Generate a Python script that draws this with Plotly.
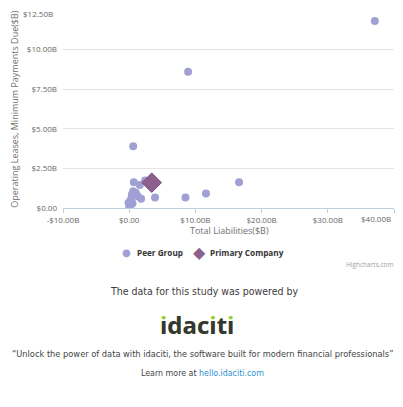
import plotly.graph_objects as go

# ---- data ----
peer_x = [37.1, 8.9, 0.6, 2.4, 0.7, 1.6, 3.9, 8.5, 11.6, 16.6, 0.6, 1.0, 1.3, 1.8,
          0.4, 0.25, 0.1, 0.0, -0.1, 0.15, 0.3, 0.5]
peer_y = [11.8, 8.6, 3.9, 1.73, 1.62, 1.45, 0.66, 0.66, 0.91, 1.63, 1.06, 0.96, 0.74, 0.58,
          0.85, 0.54, 0.22, 0.02, 0.33, 0.1, 0.4, 0.3]
primary_x = [3.4]
primary_y = [1.6]

x_tickvals = [-10, 0, 10, 20, 30, 40]
x_ticktext = ["-$10.00B", "$0.00", "$10.00B", "$20.00B", "$30.00B", "$40.00B"]
y_tickvals = [0, 2.5, 5, 7.5, 10, 12.5]
y_ticktext = ["$0.00", "$2.50B", "$5.00B", "$7.50B", "$10.00B", "$12.50B"]

x_title = "Total Liabilities($B)"
y_title = "Operating Leases, Minimum Payments Due($B)"
series_names = ["Peer Group", "Primary Company"]
series_colors = ["rgb(160,160,212)", "rgb(140,95,140)"]

CHART_FONT = "Open Sans, DejaVu Sans, sans-serif"
NARROW = "DejaVu Sans Condensed, DejaVu Sans, sans-serif"

fig = go.Figure()
fig.add_trace(go.Scatter(
    x=peer_x, y=peer_y, mode="markers", name=series_names[0], showlegend=False,
    marker=dict(symbol="circle", size=8, color=series_colors[0], line=dict(width=0)),
))
fig.add_trace(go.Scatter(
    x=primary_x, y=primary_y, mode="markers", name=series_names[1], showlegend=False,
    marker=dict(symbol="diamond", size=15, color=series_colors[1],
                line=dict(width=1, color="rgb(120,75,120)")),
))

# page body has an 8px margin; reference pixel coords map to paper coords like this
def px(p):
    return (p - 63) / 331

def py(p):
    return (208.5 - p) / 198.5

def ann(text, x, y, size, color, family=CHART_FONT, xanchor="center", **kw):
    return dict(text=text, x=px(x), y=py(y), xref="paper", yref="paper", showarrow=False,
                xanchor=xanchor, yanchor="middle",
                font=dict(family=family, size=size, color=color), **kw)

annotations = [
    # edge tick labels pulled inside the page (as Highcharts does)
    ann(x_ticktext[-1], 393, 219.5, 8, "#666666", xanchor="right"),
    ann(y_ticktext[-1], 55, 13.5, 8, "#666666", xanchor="right"),
    ann(x_title, 229, 231, 9, "#707070"),
    ann(y_title, 15, 109, 9, "#707070", textangle=-90),
    # legend
    ann("\u25cf", 126, 253, 10, series_colors[0], family="DejaVu Sans"),
    ann("<b>%s</b>" % series_names[0], 135, 253, 8.2, "#333333", xanchor="left"),
    ann("\u25c6", 199, 253, 16, series_colors[1], family="DejaVu Sans"),
    ann("<b>%s</b>" % series_names[1], 208, 253, 8.2, "#333333", xanchor="left"),
    ann("Highcharts.com", 395, 265, 6.5, "#a0a0a0", xanchor="right"),
    ann("The data for this study was powered by", 204, 292, 10.5, "#3d3d3d", family=NARROW),
    # logo: green full letters underneath, dark dotless letters on top
    ann("<b>idaciti</b>", 197, 325, 24, "#99cc33", family="Open Sans, sans-serif"),
    ann("<b>\u0131dac\u0131t\u0131</b>", 197, 325, 24, "#363636", family="Open Sans, sans-serif"),
    ann("\u201cUnlock the power of data with idaciti, the software built for modern financial professionals\u201d",
        202, 354, 9.2, "#444444", family=NARROW),
    ann("Learn more at <span style='color:#2a8fd0'>hello.idaciti.com</span>",
        202, 374, 8.8, "#444444", family=NARROW),
]

fig.update_layout(
    width=395, height=399,
    margin=dict(l=55, r=9, t=2, b=198.5, pad=0, autoexpand=False),
    paper_bgcolor="white", plot_bgcolor="white",
    showlegend=False,
    annotations=annotations,
    xaxis=dict(range=[-10, 40], tickvals=x_tickvals, automargin=False,
               ticktext=x_ticktext[:-1] + [""], showgrid=False,
               zeroline=False, showline=True, linecolor="#c0d0e0", linewidth=1,
               ticks="outside", ticklen=4, tickcolor="#c0d0e0",
               tickfont=dict(family=CHART_FONT, size=8, color="#666666")),
    yaxis=dict(range=[0, 12.5], tickvals=y_tickvals, ticktext=y_ticktext[:-1] + [""],
               showgrid=True, automargin=False,
               gridcolor="#e4e4e4", gridwidth=1, zeroline=False, showline=False,
               ticklabelstandoff=5,
               tickfont=dict(family=CHART_FONT, size=8, color="#666666")),
)

fig.write_html("out.html")
